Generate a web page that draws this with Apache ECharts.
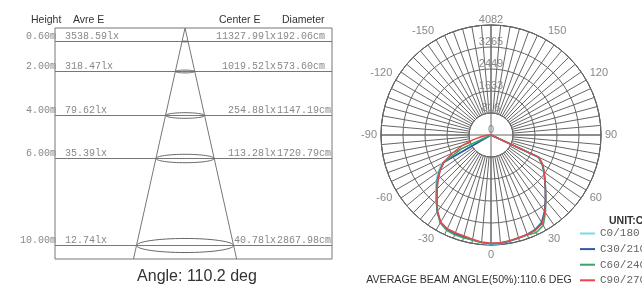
<!DOCTYPE html>
<html>
<head>
<meta charset="utf-8">
<script src="https://cdn.jsdelivr.net/npm/echarts@6/dist/echarts.min.js"></script>
<style>
  html, body { margin: 0; padding: 0; background: #fff; }
  #chart { width: 642px; height: 289px; }
</style>
</head>
<body>
<div id="chart"></div>
<script>
// ---- left: illuminance at distance ----
const heights = [0.6, 2, 4, 6, 10];                          // m
const avgLux = [3538.59, 318.47, 79.62, 35.39, 12.74];
const centerLux = [11327.99, 1019.52, 254.88, 113.28, 40.78];
const diameters = [192.06, 573.6, 1147.19, 1720.79, 2867.98]; // cm
const beamAngle = 110.2;
const avgBeamAngle = 110.6;

// ---- right: polar intensity curve (cd) ----
const angles = [-90, -85, -80, -75, -70, -65, -60, -55, -50, -45, -40, -35, -30, -25, -20, -15, -10, -5,
  0, 5, 10, 15, 20, 25, 30, 35, 40, 45, 50, 55, 60, 65, 70, 75, 80, 85, 90];
const c0 = [0, 0, 0, 0, 0, 0, 2110, 2400, 2660, 2900, 3180, 3480, 3740, 3850, 3880, 3910, 3960, 4020,
  4082, 4050, 4000, 3960, 3920, 3860, 3740, 3460, 3140, 2850, 2600, 2380, 2180, 1930, 0, 0, 0, 0, 0];
const c30 = [0, 0, 0, 0, 0, 0, 2040, 2330, 2600, 2850, 3150, 3480, 3760, 3880, 3900, 3920, 3960, 4000,
  4040, 4030, 4000, 3960, 3930, 3880, 3760, 3460, 3140, 2850, 2610, 2400, 2200, 1950, 0, 0, 0, 0, 0];
const c60 = [0, 0, 0, 0, 0, 1200, 2000, 2320, 2580, 2840, 3130, 3470, 3760, 3900, 3940, 3950, 3960, 4000,
  4030, 4020, 3990, 3960, 3950, 3990, 3880, 3520, 3170, 2870, 2620, 2400, 2210, 1950, 0, 0, 0, 0, 0];
const c90 = [0, 150, 370, 700, 1110, 1580, 2040, 2300, 2560, 2820, 3120, 3450, 3730, 3840, 3860, 3880, 3930, 3990,
  4020, 4010, 3980, 3950, 3930, 3900, 3800, 3490, 3150, 2860, 2620, 2410, 2230, 1970, 0, 0, 0, 0, 0];
const seriesNames = ['C0/180', 'C30/210', 'C60/240', 'C90/270'];
const seriesColors = ['#7fd6e4', '#3556a6', '#34a862', '#e8474f'];
const radialTicks = [0, 816, 1633, 2449, 3265, 4082];
const angleTicks = [-150, -120, -90, -60, -30, 0, 30, 60, 90, 120, 150];

const chart = echarts.init(document.getElementById('chart'));

const yMax = 10.65;
const halfTan = Math.tan(beamAngle / 2 * Math.PI / 180);
const mono = 'Liberation Mono';
const sans = 'Liberation Sans';

function renderRow(params, api) {
  const i = params.dataIndex;
  const h = api.value(0);
  const cs = params.coordSys;
  const c = api.coord([0, h]);
  const edge = api.coord([api.value(1) / 200, h]);
  const rx = edge[0] - c[0];
  const ry = rx * 0.145;
  const y = Math.round(c[1]) + 0.5;
  const pts = [];
  for (let k = 0; k <= 64; k++) {
    const t = k / 64 * Math.PI * 2;
    pts.push([c[0] + rx * Math.cos(t), y + ry * Math.sin(t)]);
  }
  const right = cs.x + cs.width;
  const txt = (text, x, align) => ({
    type: 'text', x: x, y: y,
    style: { text: text, align: align, verticalAlign: 'bottom', fontFamily: mono, fontSize: 10, fill: '#888' }
  });
  return {
    type: 'group',
    children: [
      { type: 'line', shape: { x1: cs.x, y1: y, x2: right, y2: y }, style: { stroke: '#777', lineWidth: 1 } },
      { type: 'polyline', shape: { points: pts }, style: { fill: null, stroke: '#666', lineWidth: 1 } },
      txt(heights[i].toFixed(2) + 'm', cs.x + 1, 'right'),
      txt(avgLux[i].toFixed(2) + 'lx', cs.x + 10, 'left'),
      txt(centerLux[i].toFixed(2) + 'lx', right - 56, 'right'),
      txt(diameters[i].toFixed(2) + 'cm', right - 55, 'left')
    ]
  };
}

const polarSeries = [c0, c30, c60, c90].map((vals, s) => ({
  name: seriesNames[s],
  type: 'line',
  coordinateSystem: 'polar',
  polarIndex: 0,
  symbol: 'none',
  color: seriesColors[s],
  lineStyle: { width: 1.5 },
  data: angles.map((a, i) => [vals[i], a]),
  z: 5
}));

const option = {
  animation: false,
  grid: { left: 55, right: 310, top: 28, bottom: 30, show: true, borderColor: '#777', borderWidth: 1 },
  xAxis: { type: 'value', min: -38.5, max: 43.5, show: false },
  yAxis: { type: 'value', min: 0, max: yMax, inverse: true, show: false },
  polar: [
    { center: [491, 135], radius: [0, 110] },
    { center: [491, 135], radius: [22, 110] }
  ],
  angleAxis: [
    {
      polarIndex: 0, type: 'value', min: -180, max: 180, interval: 90, startAngle: 90, clockwise: false,
      axisLine: { lineStyle: { color: '#666' } }, axisTick: { show: false }, axisLabel: { show: false },
      splitLine: { lineStyle: { color: '#666', width: 1 } }
    },
    {
      polarIndex: 1, type: 'value', min: -180, max: 180, interval: 5, startAngle: 90, clockwise: false,
      axisLine: { show: true, lineStyle: { color: '#666' } }, axisTick: { show: false },
      axisLabel: {
        margin: 4, color: '#888', fontSize: 11, fontFamily: sans,
        formatter: (v) => angleTicks.includes(v) ? String(v) : ''
      },
      splitLine: { lineStyle: { color: '#666', width: 1 } }
    }
  ],
  radiusAxis: [
    {
      polarIndex: 0, type: 'value', min: 0, max: 4082, interval: 816.4,
      axisLine: { show: false }, axisTick: { show: false },
      axisLabel: {
        margin: 0, align: 'center', verticalAlign: 'bottom', color: '#888', fontSize: 11, fontFamily: sans,
        formatter: (v, i) => String(radialTicks[i])
      },
      splitLine: { show: true, lineStyle: { color: '#666', width: 1 } }
    },
    { polarIndex: 1, type: 'value', min: 0, max: 1, show: false }
  ],
  legend: {
    orient: 'vertical', left: 580, top: 227, padding: 0, height: 62,
    itemWidth: 15, itemHeight: 2, itemGap: 2.6, icon: 'rect',
    textStyle: { fontFamily: mono, fontSize: 11, color: '#666', lineHeight: 13 },
    data: seriesNames
  },
  graphic: [
    { type: 'text', x: 31, y: 20, style: { text: 'Height', fontFamily: sans, fontSize: 10.5, fill: '#333', verticalAlign: 'middle' } },
    { type: 'text', x: 73, y: 20, style: { text: 'Avre E', fontFamily: sans, fontSize: 10.5, fill: '#333', verticalAlign: 'middle' } },
    { type: 'text', x: 219, y: 20, style: { text: 'Center E', fontFamily: sans, fontSize: 10.5, fill: '#333', verticalAlign: 'middle' } },
    { type: 'text', x: 282, y: 20, style: { text: 'Diameter', fontFamily: sans, fontSize: 10.5, fill: '#333', verticalAlign: 'middle' } },
    { type: 'text', x: 197, y: 277, style: { text: 'Angle: ' + beamAngle + ' deg', fontFamily: sans, fontSize: 16, fill: '#333', align: 'center', verticalAlign: 'middle' } },
    { type: 'text', x: 469, y: 280, scaleX: 0.9, style: { text: 'AVERAGE BEAM ANGLE(50%):' + avgBeamAngle + ' DEG', fontFamily: sans, fontSize: 11.8, fill: '#333', align: 'center', verticalAlign: 'middle' } },
    { type: 'text', x: 609, y: 221, style: { text: 'UNIT:CD', fontFamily: sans, fontSize: 10.5, fontWeight: 'bold', fill: '#333', verticalAlign: 'middle' } }
  ],
  series: [
    {
      type: 'line', silent: true, symbol: 'none',
      lineStyle: { color: '#777', width: 1 },
      data: [[-halfTan * yMax, yMax], [0, 0], [halfTan * yMax, yMax]]
    },
    {
      type: 'custom', silent: true, renderItem: renderRow,
      data: heights.map((h, i) => [h, diameters[i]])
    }
  ].concat(polarSeries)
};

chart.setOption(option);
</script>
</body>
</html>
